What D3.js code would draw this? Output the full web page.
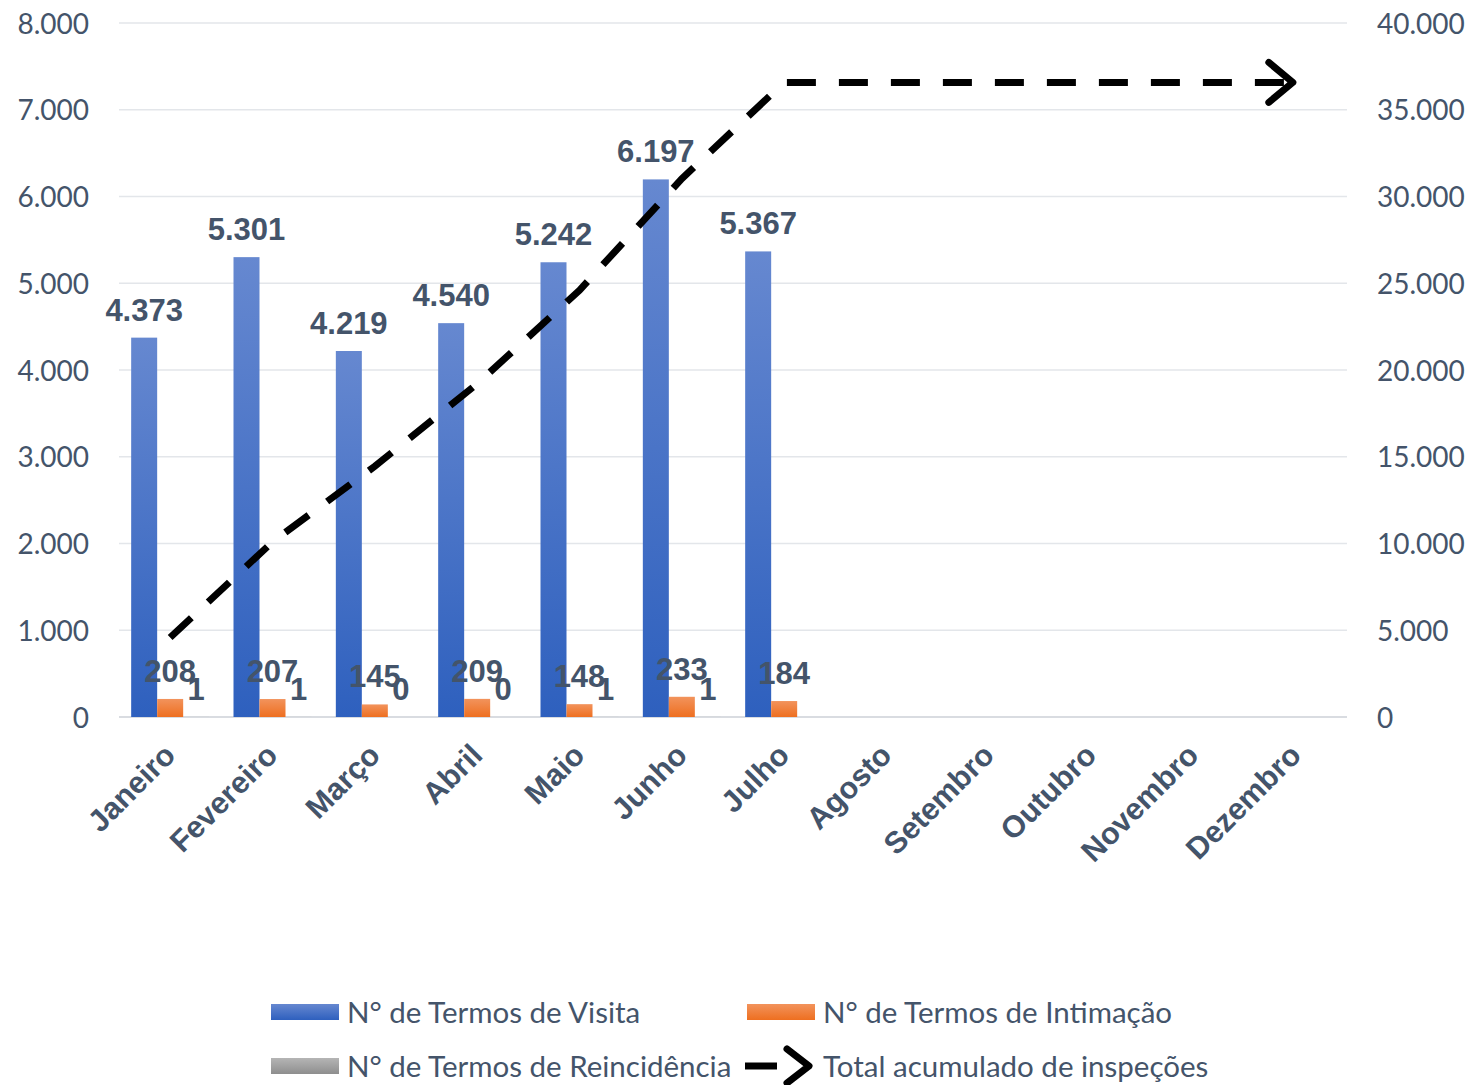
<!DOCTYPE html>
<html>
<head>
<meta charset="utf-8">
<script src="https://cdn.jsdelivr.net/npm/d3@7/dist/d3.min.js"></script>
<style>
  html, body { margin: 0; padding: 0; background: #fff; }
  svg { display: block; }
</style>
</head>
<body>
<svg id="chart" width="1468" height="1085"></svg>
<script>
const months = ["Janeiro","Fevereiro","Março","Abril","Maio","Junho","Julho","Agosto","Setembro","Outubro","Novembro","Dezembro"];
const visita = [4373, 5301, 4219, 4540, 5242, 6197, 5367, null, null, null, null, null];
const intimacao = [208, 207, 145, 209, 148, 233, 184, null, null, null, null, null];
const reincidencia = [1, 1, 0, 0, 1, 1, null, null, null, null, null, null];
const acumulado = [4582, 10091, 14455, 19204, 24595, 31026, 36577, 36577, 36577, 36577, 36577, 36577];
const leftTicks = [0, 1000, 2000, 3000, 4000, 5000, 6000, 7000, 8000];
const rightTicks = [0, 5000, 10000, 15000, 20000, 25000, 30000, 35000, 40000];
const seriesNames = ["N° de Termos de Visita", "N° de Termos de Intimação", "N° de Termos de Reincidência", "Total acumulado de inspeções"];

const textColor = "#44546A";
const svg = d3.select("#chart");
const fmt = d3.formatLocale({decimal: ",", thousands: ".", grouping: [3], currency: ["", ""]}).format(",d");

const x = d3.scaleBand().domain(months).range([119, 1347]).paddingInner(0).paddingOuter(0);
const sub = d3.scaleBand().domain([0, 1, 2]).range([-39, 39]);
const yL = d3.scaleLinear().domain([0, 8000]).range([717, 23]);
const yR = d3.scaleLinear().domain([0, 40000]).range([717, 23]);

// gradients
const defs = svg.append("defs");
function grad(id, top, bottom) {
  const g = defs.append("linearGradient").attr("id", id).attr("x1", 0).attr("y1", 0).attr("x2", 0).attr("y2", 1);
  g.append("stop").attr("offset", "0%").attr("stop-color", top);
  g.append("stop").attr("offset", "100%").attr("stop-color", bottom);
}
grad("gBlue", "#6688D0", "#2E60BE");
grad("gOrange", "#F2935C", "#EE6F20");
grad("gGrey", "#B5B5B5", "#8E8E8E");
const fills = ["url(#gBlue)", "url(#gOrange)", "url(#gGrey)"];

// gridlines
svg.append("g").selectAll("line").data(leftTicks).join("line")
  .attr("x1", 119).attr("x2", 1347)
  .attr("y1", d => yL(d)).attr("y2", d => yL(d))
  .attr("stroke", d => d === 0 ? "#D9DCE1" : "#E3E6EA").attr("stroke-width", d => d === 0 ? 2 : 1.5);

// left axis
const axL = svg.append("g").attr("transform", "translate(89,0)")
  .call(d3.axisLeft(yL).tickValues(leftTicks).tickFormat(fmt).tickSize(0).tickPadding(0));
axL.select(".domain").remove();
axL.selectAll("text").attr("font-family", "Lato, 'Open Sans', sans-serif").attr("font-size", 28).attr("fill", textColor).attr("dy", "0.36em");

// right axis
const axR = svg.append("g").attr("transform", "translate(1377,0)")
  .call(d3.axisRight(yR).tickValues(rightTicks).tickFormat(fmt).tickSize(0).tickPadding(0));
axR.select(".domain").remove();
axR.selectAll("text").attr("font-family", "Lato, 'Open Sans', sans-serif").attr("font-size", 28).attr("fill", textColor).attr("dy", "0.36em");

// x axis labels
const xlab = svg.append("g");
months.forEach(m => {
  const cx = x(m) + x.bandwidth() / 2;
  xlab.append("text")
    .attr("transform", `translate(${cx + 7},${757}) rotate(-45)`)
    .attr("text-anchor", "end")
    .attr("font-family", "'Liberation Sans', Arial, sans-serif")
    .attr("font-weight", "bold").attr("font-size", 30.5)
    .attr("fill", textColor).text(m);
});

// bars
const series = [visita, intimacao, reincidencia];
const barG = svg.append("g");
series.forEach((arr, si) => {
  barG.selectAll(null).data(arr.map((v, i) => ({v, m: months[i]})).filter(d => d.v !== null)).join("rect")
    .attr("x", d => x(d.m) + x.bandwidth() / 2 + sub(si))
    .attr("width", sub.bandwidth())
    .attr("y", d => yL(d.v))
    .attr("height", d => yL(0) - yL(d.v))
    .attr("fill", fills[si]);
});

// cumulative line
const pts = acumulado.map((v, i) => [x(months[i]) + x.bandwidth() / 2, yR(v)]);
const last = pts[pts.length - 1];
const lineData = pts.slice(0, -1).concat([[last[0] - 4, last[1]]]);
svg.append("path")
  .attr("d", d3.line()(lineData))
  .attr("fill", "none").attr("stroke", "#000").attr("stroke-width", 7)
  .attr("stroke-dasharray", "29 23").attr("stroke-linejoin", "miter");
svg.append("path")
  .attr("d", d3.line()([[last[0] - 27, last[1] - 20], [last[0] - 3, last[1]], [last[0] - 27, last[1] + 20]]))
  .attr("fill", "none").attr("stroke", "#000").attr("stroke-width", 7)
  .attr("stroke-linecap", "round").attr("stroke-linejoin", "round");

// data labels
const labG = svg.append("g");
series.forEach((arr, si) => {
  labG.selectAll(null).data(arr.map((v, i) => ({v, m: months[i]})).filter(d => d.v !== null)).join("text")
    .attr("x", d => x(d.m) + x.bandwidth() / 2 + sub(si) + sub.bandwidth() / 2)
    .attr("y", d => yL(d.v) - 17)
    .attr("text-anchor", "middle")
    .attr("font-family", "'Liberation Sans', Arial, sans-serif")
    .attr("font-weight", "bold").attr("font-size", 31)
    .attr("fill", textColor)
    .text(d => fmt(d.v));
});

// legend
const lg = svg.append("g").attr("font-family", "Lato, 'Open Sans', sans-serif").attr("font-size", 29.5).attr("fill", textColor);
const legendItems = [
  {name: seriesNames[0], sx: 271, cy: 1012, type: "rect", fill: fills[0]},
  {name: seriesNames[1], sx: 747, cy: 1012, type: "rect", fill: fills[1]},
  {name: seriesNames[2], sx: 271, cy: 1066, type: "rect", fill: fills[2]},
  {name: seriesNames[3], sx: 745, cy: 1066, type: "line"}
];
legendItems.forEach(it => {
  if (it.type === "rect") {
    lg.append("rect").attr("x", it.sx).attr("y", it.cy - 8).attr("width", 68).attr("height", 16).attr("fill", it.fill);
    lg.append("text").attr("x", it.sx + 76).attr("y", it.cy).attr("dy", "0.36em").text(it.name);
  } else {
    lg.append("line").attr("x1", it.sx).attr("x2", it.sx + 32).attr("y1", it.cy).attr("y2", it.cy)
      .attr("stroke", "#000").attr("stroke-width", 7);
    lg.append("path").attr("d", d3.line()([[it.sx + 42, it.cy - 17], [it.sx + 64, it.cy], [it.sx + 42, it.cy + 17]]))
      .attr("fill", "none").attr("stroke", "#000").attr("stroke-width", 7)
      .attr("stroke-linecap", "round").attr("stroke-linejoin", "round");
    lg.append("text").attr("x", it.sx + 78).attr("y", it.cy).attr("dy", "0.36em").text(it.name);
  }
});
</script>
</body>
</html>
